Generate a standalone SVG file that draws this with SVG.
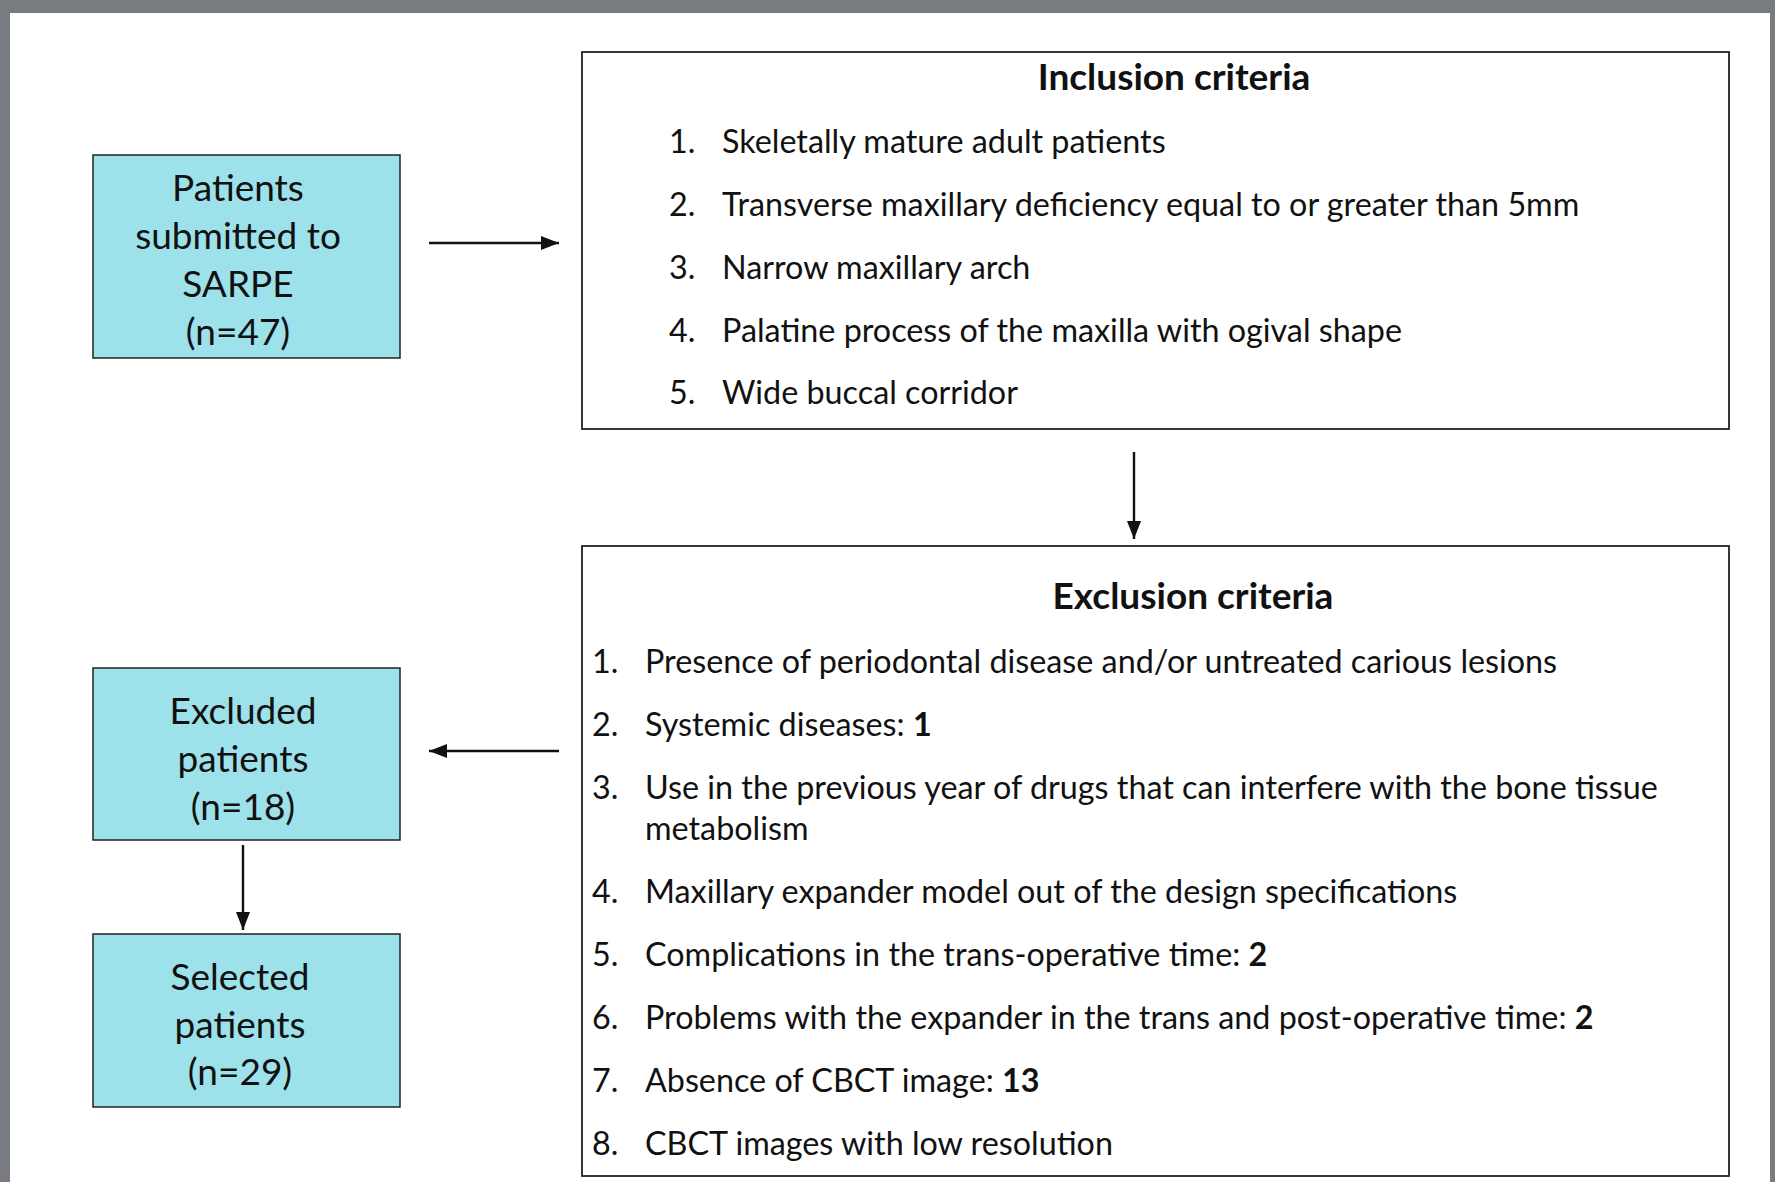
<svg xmlns="http://www.w3.org/2000/svg" width="1775" height="1182" viewBox="0 0 1775 1182">
<defs>
<style>
.frame{fill:#787b7f}
.node{fill:#9de2eb;stroke:#222;stroke-width:1.5}
.crit{fill:#fff;stroke:#222;stroke-width:1.8}
.t{font-family:Lato,"Open Sans","Liberation Sans",sans-serif;fill:#111}
.nt{font-size:37px;text-anchor:middle}
.ct{font-size:32.3px}
.h{font-size:37px;font-weight:bold;text-anchor:middle}
.b{font-weight:bold}
.edge{stroke:#111;stroke-width:2.4;fill:none;marker-end:url(#ah)}
</style>
<marker id="ah" viewBox="0 0 10 10" refX="10" refY="5" markerWidth="18" markerHeight="14" markerUnits="userSpaceOnUse" orient="auto" preserveAspectRatio="none">
<path d="M0,0 L10,5 L0,10 z" fill="#111"/>
</marker>
</defs>
<rect x="0" y="0" width="1775" height="1182" fill="#fff"/>
<rect class="frame" x="0" y="0" width="1775" height="13"/>
<rect class="frame" x="0" y="0" width="10" height="1182"/>
<rect class="frame" x="1770" y="0" width="5" height="1182"/>

<g id="patients">
<rect class="node" x="93" y="155" width="307" height="203"/>
<text class="t nt" x="238" y="201">Patients</text>
<text class="t nt" x="238" y="249">submitted to</text>
<text class="t nt" x="238" y="297">SARPE</text>
<text class="t nt" x="238" y="345">(n=47)</text>
</g>

<g id="inclusion">
<rect class="crit" x="582" y="52" width="1147" height="377"/>
<text class="t h" x="1174" y="90">Inclusion criteria</text>
<text class="t ct" x="669" y="153">1.</text><text class="t ct" x="722" y="153">Skeletally mature adult patients</text>
<text class="t ct" x="669" y="216">2.</text><text class="t ct" x="722" y="216">Transverse maxillary deficiency equal to or greater than 5mm</text>
<text class="t ct" x="669" y="279">3.</text><text class="t ct" x="722" y="279">Narrow maxillary arch</text>
<text class="t ct" x="669" y="342">4.</text><text class="t ct" x="722" y="342">Palatine process of the maxilla with ogival shape</text>
<text class="t ct" x="669" y="404">5.</text><text class="t ct" x="722" y="404">Wide buccal corridor</text>
</g>

<g id="exclusion">
<rect class="crit" x="582" y="546" width="1147" height="630"/>
<text class="t h" x="1193" y="609">Exclusion criteria</text>
<text class="t ct" x="592" y="673">1.</text><text class="t ct" x="645" y="673">Presence of periodontal disease and/or untreated carious lesions</text>
<text class="t ct" x="592" y="736">2.</text><text class="t ct" x="645" y="736">Systemic diseases: <tspan class="b">1</tspan></text>
<text class="t ct" x="592" y="799">3.</text><text class="t ct" x="645" y="799">Use in the previous year of drugs that can interfere with the bone tissue</text>
<text class="t ct" x="645" y="840">metabolism</text>
<text class="t ct" x="592" y="903">4.</text><text class="t ct" x="645" y="903">Maxillary expander model out of the design specifications</text>
<text class="t ct" x="592" y="966">5.</text><text class="t ct" x="645" y="966">Complications in the trans-operative time: <tspan class="b">2</tspan></text>
<text class="t ct" x="592" y="1029">6.</text><text class="t ct" x="645" y="1029">Problems with the expander in the trans and post-operative time: <tspan class="b">2</tspan></text>
<text class="t ct" x="592" y="1092">7.</text><text class="t ct" x="645" y="1092">Absence of CBCT image: <tspan class="b">13</tspan></text>
<text class="t ct" x="592" y="1155">8.</text><text class="t ct" x="645" y="1155">CBCT images with low resolution</text>
</g>

<g id="excluded">
<rect class="node" x="93" y="668" width="307" height="172"/>
<text class="t nt" x="243" y="724">Excluded</text>
<text class="t nt" x="243" y="772">patients</text>
<text class="t nt" x="243" y="820">(n=18)</text>
</g>

<g id="selected">
<rect class="node" x="93" y="934" width="307" height="173"/>
<text class="t nt" x="240" y="990">Selected</text>
<text class="t nt" x="240" y="1038">patients</text>
<text class="t nt" x="240" y="1085">(n=29)</text>
</g>

<g id="connectors">
<line class="edge" x1="429" y1="243" x2="559" y2="243"/>
<line class="edge" x1="1134" y1="452" x2="1134" y2="539"/>
<line class="edge" x1="559" y1="751" x2="429" y2="751"/>
<line class="edge" x1="243" y1="845" x2="243" y2="930"/>
</g>
</svg>
